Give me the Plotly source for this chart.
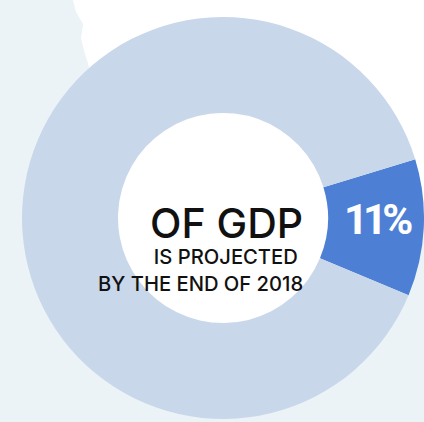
import plotly.graph_objects as go

W, H = 424, 422

labels = ["Projected share of GDP", "Rest of GDP"]
values = [11, 89]
slice_colors = ["#4d80d4", "#c9d7eb"]
center_lines = ["OF GDP", "IS PROJECTED", "BY THE END OF 2018"]

# pie geometry in pixels (from top-left)
cx, cy, r, r_in = 223, 218, 201, 105
dom_x = [max(0, (cx - r) / W), min(1, (cx + r) / W)]
dom_y = [max(0, (H - cy - r) / H), min(1, (H - cy + r) / H)]

fig = go.Figure()
fig.add_trace(go.Pie(
    labels=labels,
    values=values,
    hole=r_in / r,
    sort=False,
    direction="clockwise",
    rotation=73,
    marker=dict(colors=slice_colors, line=dict(width=0)),
    textinfo="none",
    showlegend=False,
    hoverinfo="label+percent",
    domain=dict(x=dom_x, y=dom_y),
))

def px(x):
    return x / W

def py(y):
    return 1 - y / H

# white background patch in the upper area
pts = [(73, 0), (76, 12), (83, 24), (81, 38), (85, 54), (90, 70), (223, 218), (424, 218), (424, 0)]
path = "M " + " L ".join(f"{px(x)},{py(y)}" for x, y in pts) + " Z"
fig.add_shape(type="path", path=path, xref="paper", yref="paper",
              fillcolor="#ffffff", line=dict(width=0), layer="below")
# white centre of the donut
fig.add_shape(type="circle", xref="paper", yref="paper",
              x0=px(cx - r_in - 1), x1=px(cx + r_in + 1),
              y0=py(cy + r_in + 1), y1=py(cy - r_in - 1),
              fillcolor="#ffffff", line=dict(width=0), layer="below")

# percentage label on the highlighted slice
fig.add_annotation(x=px(378), y=py(219), xref="paper", yref="paper",
                   text=f"<span style='letter-spacing:-5px'>{values[0]}%</span>",
                   showarrow=False, xanchor="center", yanchor="middle",
                   font=dict(family="Roboto, Arial, sans-serif", size=42,
                             color="white", weight="bold"))

# centre text block (one annotation, right aligned)
block = (f"<span style='font-size:41px'>{center_lines[0]}</span><br>"
         f"{center_lines[1]}&nbsp;<br>{center_lines[2]}")
font_main = "Inter, Lato, 'Noto Sans', sans-serif"
fig.add_annotation(x=px(305), y=py(247), xref="paper", yref="paper",
                   text=block, showarrow=False, xanchor="right", yanchor="middle",
                   align="right",
                   font=dict(family=font_main, size=20.2, color="#111111", weight=500))

fig.update_layout(
    width=W, height=H,
    margin=dict(l=0, r=0, t=0, b=0),
    paper_bgcolor="#ebf3f7",
    plot_bgcolor="#ebf3f7",
)

fig.write_html("out.html", config={"displayModeBar": False},
               post_script="document.body.style.margin='0px';document.body.style.overflow='hidden';")
